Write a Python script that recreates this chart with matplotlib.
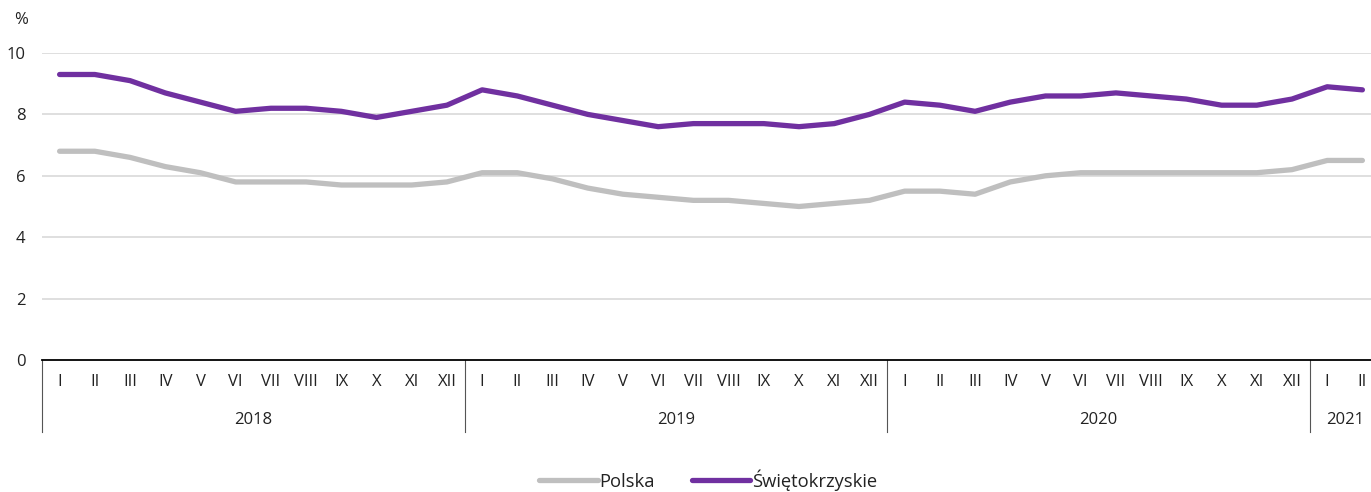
import numpy as np
import matplotlib
matplotlib.use("Agg")
import matplotlib.pyplot as plt
import matplotlib.transforms as mtransforms

plt.rcParams['font.family'] = ['Open Sans', 'DejaVu Sans']

months = ["I", "II", "III", "IV", "V", "VI", "VII", "VIII", "IX", "X", "XI", "XII"]
years = ["2018", "2019", "2020", "2021"]
year_lengths = [12, 12, 12, 2]
polska = [6.8, 6.8, 6.6, 6.3, 6.1, 5.8, 5.8, 5.8, 5.7, 5.7, 5.7, 5.8,
          6.1, 6.1, 5.9, 5.6, 5.4, 5.3, 5.2, 5.2, 5.1, 5.0, 5.1, 5.2,
          5.5, 5.5, 5.4, 5.8, 6.0, 6.1, 6.1, 6.1, 6.1, 6.1, 6.1, 6.2,
          6.5, 6.5]
swietokrzyskie = [9.3, 9.3, 9.1, 8.7, 8.4, 8.1, 8.2, 8.2, 8.1, 7.9, 8.1, 8.3,
                  8.8, 8.6, 8.3, 8.0, 7.8, 7.6, 7.7, 7.7, 7.7, 7.6, 7.7, 8.0,
                  8.4, 8.3, 8.1, 8.4, 8.6, 8.6, 8.7, 8.6, 8.5, 8.3, 8.3, 8.5,
                  8.9, 8.8]
yticks = [0, 2, 4, 6, 8, 10]

gray = "#bfbfbf"
purple = "#7030a0"

W, H = 1371, 492
fig = plt.figure(figsize=(W/100, H/100), dpi=100)
ax = fig.add_axes([42/W, 1-360/H, 1338/W, (360-53)/H])

x = np.arange(len(polska))
ax.plot(x, polska, color=gray, lw=3.8, solid_capstyle='round', solid_joinstyle='round', label="Polska")
ax.plot(x, swietokrzyskie, color=purple, lw=3.8, solid_capstyle='round', solid_joinstyle='round', label="Świętokrzyskie")

ax.set_xlim(-0.5, len(polska) - 0.5)
ax.set_ylim(0, 10)
ax.set_yticks(yticks)
ax.set_yticklabels([str(v) for v in yticks], fontsize=12, color="#222222")
ax.tick_params(axis='y', length=0, pad=12)
ax.set_xticks([])
for v in yticks[1:]:
    ax.axhline(v, color="#d9d9d9", lw=1.2, zorder=0)
for s in ["top", "right", "left"]:
    ax.spines[s].set_visible(False)
ax.spines["bottom"].set_color("black")
ax.spines["bottom"].set_linewidth(1.3)

trans = mtransforms.blended_transform_factory(ax.transData, ax.transAxes)
labels = []
for L in year_lengths:
    labels += months[:L]
for i, m in enumerate(labels):
    ax.text(i, -0.072, m, transform=trans, ha='center', va='center', fontsize=12, color="#222222")

start = 0
bounds = [0]
for yname, L in zip(years, year_lengths):
    ax.text(start + L/2 - 0.5, -0.195, yname, transform=trans, ha='center', va='center', fontsize=12, color="#222222")
    start += L
    bounds.append(start)
for b in bounds[:-1]:
    ax.plot([b - 0.5, b - 0.5], [0, -0.235], transform=trans, color="#555555", lw=0.8, clip_on=False)

fig.text(14/W, 1-20/H, "%", fontsize=12, ha='left', va='center', color="#222222")

leg = fig.legend(loc='center', bbox_to_anchor=(708/W, 1-480/H), ncol=2, frameon=False,
                 fontsize=13.2, handlelength=3.2, handletextpad=0.1, columnspacing=2.0,
                 borderpad=0.1)
for t in leg.get_texts():
    t.set_color("#222222")

fig.savefig("out.png", dpi=100)
